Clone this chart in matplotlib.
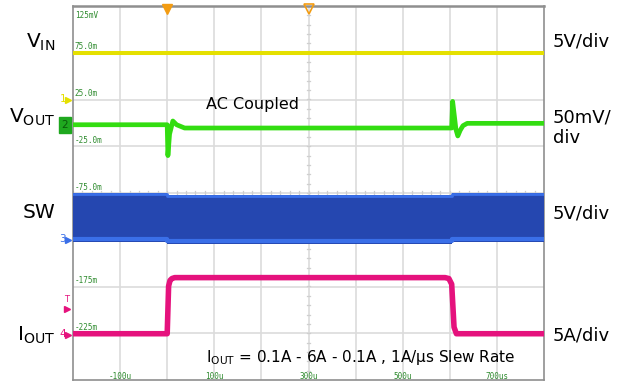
import numpy as np
import matplotlib.pyplot as plt

# time axis (us), 100us/div, screen -200..800us
grid_t = [-100, 0, 100, 200, 300, 400, 500, 600, 700]
time_labels = ["-100u", "100u", "300u", "500u", "700us"]
time_label_pos = [-100, 100, 300, 500, 700]
scale_labels = ["125mV", "75.0m", "25.0m", "-25.0m", "-75.0m", "-125m", "-175m", "-225m"]

# CH1 VIN (V)
t_vin = [-200, 800]
vin = [5.0, 5.0]

# CH2 VOUT, AC coupled (mV)
t_vout = [-200, 0, 1.5, 5, 12, 20, 37, 604, 606, 610, 613, 617, 622, 628, 637, 800]
vout = [0, 0, -33, -10, 4, 0, -3.5, -3.5, 25, 8, -5, -12, -6, -1, 1.5, 1.5]

# CH3 SW envelope (V)
t_sw = [-200, 0, 0, 605, 605, 800]
sw_high = [5.0, 5.0, 4.8, 4.8, 5.0, 5.0]
sw_low = [-0.2, -0.2, -0.43, -0.43, -0.2, -0.2]

# CH4 IOUT (A)
t_iout = [-200, 0, 3, 6, 10, 16, 590, 598, 604, 609, 614, 800]
iout = [0.1, 0.1, 5.2, 5.8, 6.0, 6.1, 6.1, 6.0, 5.4, 0.8, 0.1, 0.1]

# channel scale / position (div)
ch1_scale, ch1_pos = 5.0, 2.0
ch2_scale, ch2_pos = 50.0, 1.46
ch3_scale, ch3_pos = 5.0, -1.0
ch4_scale, ch4_pos = 5.0, -3.03

W, H = 626, 382
fig = plt.figure(figsize=(W / 100, H / 100), dpi=100)
fig.patch.set_facecolor("white")
L, R, T, B = 73, 544, 6, 380
ax = fig.add_axes([L / W, 1 - B / H, (R - L) / W, (B - T) / H])
ax.set_xlim(-200, 800)
ax.set_ylim(-4, 4)
ax.set_xticks([])
ax.set_yticks([])
for s in ax.spines.values():
    s.set_color("#8f8f8f")
    s.set_linewidth(1.2)
ax.spines["top"].set_linewidth(1.8)

# grid
for t in grid_t:
    ax.axvline(t, color="#dcdcdc", lw=1.2, zorder=0)
for y in range(-3, 4):
    ax.axhline(y, color="#dcdcdc", lw=1.2, zorder=0)
# minor ticks on centre lines
for y in np.arange(-4, 4.01, 0.2):
    ax.plot([296, 304], [y, y], color="#cfcfcf", lw=0.9, zorder=0)
for t in np.arange(-200, 801, 20):
    ax.plot([t, t], [-0.05, 0.05], color="#cfcfcf", lw=0.9, zorder=0)

# scale labels
lbl_kw = dict(family="DejaVu Sans Mono", fontsize=5.5, color="#2e8b2e", zorder=1)
ax.text(-196, 3.9, scale_labels[0], va="top", ha="left", **lbl_kw)
for i, lab in enumerate(scale_labels[1:]):
    ax.text(-196, 3 - i + 0.03, lab, va="bottom", ha="left", **lbl_kw)
for x, lab in zip(time_label_pos, time_labels):
    ax.text(x, -3.92, lab, va="center", ha="center", **lbl_kw)

# traces
ax.plot(t_vin, ch1_pos + np.array(vin) / ch1_scale, color="#e5e000", lw=2.9, zorder=3)
ax.plot(t_vout, ch2_pos + np.array(vout) / ch2_scale, color="#33dd11", lw=3.4, zorder=4,
        solid_joinstyle="round")
hi = ch3_pos + np.array(sw_high) / ch3_scale
lo = ch3_pos + np.array(sw_low) / ch3_scale
ax.fill_between(t_sw, lo, hi, color="#2547b0", lw=0, zorder=3)
ax.plot(t_sw, hi - 0.03, color="#3a6fe8", lw=2.0, zorder=3)
ax.plot(t_sw, lo + 0.05, color="#3a6fe8", lw=3.0, zorder=3)
ax.plot(t_iout, ch4_pos + np.array(iout) / ch4_scale, color="#e5127d", lw=4.0, zorder=5,
        solid_joinstyle="round")

# trigger markers
ax.plot([0], [3.93], marker="v", ms=7, color="#f39c12", clip_on=False, zorder=6)
ax.plot([300], [3.93], marker="v", ms=7, mfc="none", mec="#f39c12", mew=1.2, clip_on=False, zorder=6)

# channel markers on left edge
mk = dict(clip_on=False, zorder=6)
ax.text(-222, 2.02, "1", color="#e5e000", fontsize=7.5, ha="center", va="center", **mk)
ax.plot([-210], [2.0], marker=">", ms=4.5, color="#e5e000", **mk)
ax.text(-217, ch2_pos, "2", color="#0a5a0a", fontsize=7.5, ha="center", va="center",
        bbox=dict(boxstyle="square,pad=0.3", fc="#1fa81f", ec="#1fa81f"), **mk)
ax.text(-222, ch3_pos + 0.02, "3", color="#3a6fe8", fontsize=7.5, ha="center", va="center", **mk)
ax.plot([-210], [ch3_pos], marker=">", ms=4.5, color="#3a6fe8", **mk)
ax.text(-214, -2.28, "T", color="#e5127d", fontsize=6, ha="center", va="center", **mk)
ax.plot([-213], [-2.48], marker=">", ms=4.5, color="#e5127d", **mk)
ax.text(-222, ch4_pos + 0.02, "4", color="#e5127d", fontsize=7.5, ha="center", va="center", **mk)
ax.plot([-210], [ch4_pos], marker=">", ms=4.5, color="#e5127d", **mk)

# annotations
ax.text(82, 1.9, "AC Coupled", fontsize=11.5, ha="left", va="center", zorder=7)
ax.text(82, -3.52, r"I$_{\mathregular{OUT}}$ = 0.1A - 6A - 0.1A , 1A/µs Slew Rate",
        fontsize=11, ha="left", va="center", zorder=7)

# channel names (left) and scales (right)
names = [r"V$_{\mathregular{IN}}$", r"V$_{\mathregular{OUT}}$", "SW", r"I$_{\mathregular{OUT}}$"]
name_y = [42, 117, 213, 335]
for n, y in zip(names, name_y):
    fig.text(55 / W, 1 - y / H, n, fontsize=14.5, ha="right", va="center")
scales = ["5V/div", "50mV/\ndiv", "5V/div", "5A/div"]
scale_y = [42, 128, 213, 336]
for s, y in zip(scales, scale_y):
    fig.text(553 / W, 1 - y / H, s, fontsize=13, ha="left", va="center", linespacing=1.15)

fig.savefig("out.png", dpi=100)
